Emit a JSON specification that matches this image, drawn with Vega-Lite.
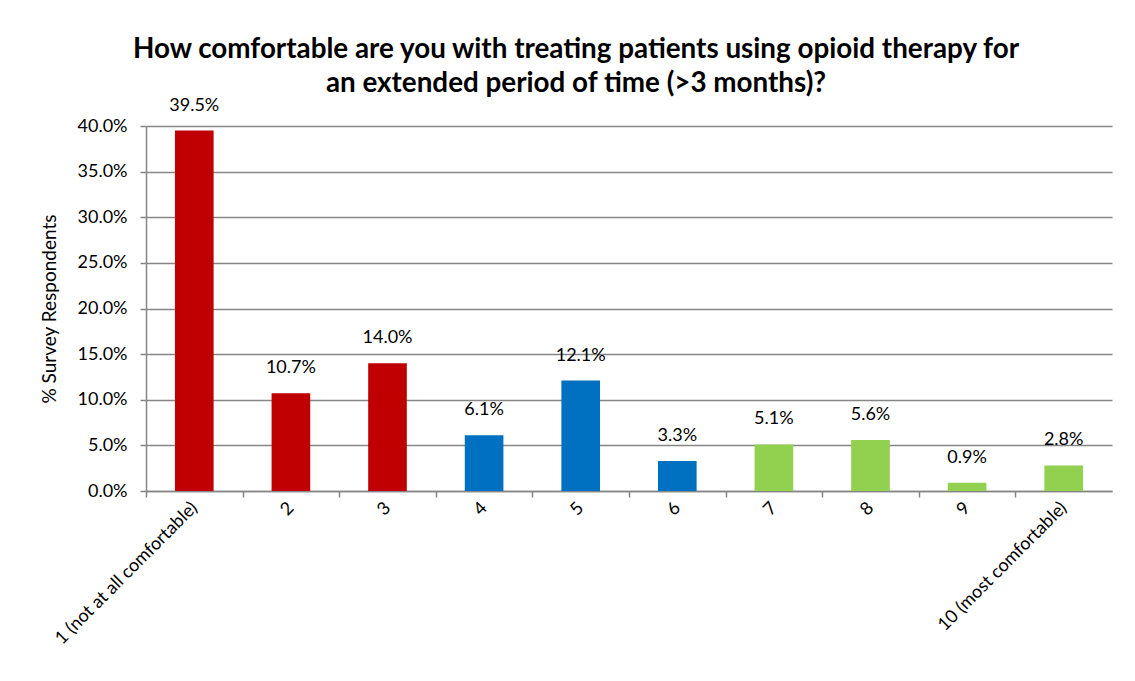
{
  "$schema": "https://vega.github.io/schema/vega-lite/v6.json",
  "autosize": "none",
  "width": 966,
  "height": 365,
  "padding": {"left": 146, "top": 126, "right": 23, "bottom": 190},
  "background": "white",
  "config": {
    "font": "Lato",
    "view": {"stroke": null}
  },
  "title": {
    "text": ["How comfortable are you with treating patients using  opioid therapy for", "an extended period of time (>3 months)?"],
    "font": "Lato",
    "fontSize": 27.8,
    "fontWeight": "bold",
    "color": "black",
    "anchor": "middle",
    "frame": "bounds",
    "offset": -1,
    "lineHeight": 34
  },
  "data": {
    "values": [
      {"category": "1 (not at all comfortable)", "value": 0.395, "group": "low"},
      {"category": "2", "value": 0.107, "group": "low"},
      {"category": "3", "value": 0.140, "group": "low"},
      {"category": "4", "value": 0.061, "group": "mid"},
      {"category": "5", "value": 0.121, "group": "mid"},
      {"category": "6", "value": 0.033, "group": "mid"},
      {"category": "7", "value": 0.051, "group": "high"},
      {"category": "8", "value": 0.056, "group": "high"},
      {"category": "9", "value": 0.009, "group": "high"},
      {"category": "10 (most comfortable)", "value": 0.028, "group": "high"}
    ]
  },
  "encoding": {
    "x": {
      "field": "category",
      "type": "nominal",
      "sort": null,
      "scale": {"paddingInner": 0.6, "paddingOuter": 0.3},
      "axis": {
        "title": null,
        "labelAngle": -45,
        "labelAlign": "right",
        "labelBaseline": "middle",
        "labelFontSize": 18,
        "labelColor": "black",
        "labelPadding": 8,
        "labelLimit": 0,
        "tickOffset": -48.3,
        "labelOffset": 48.3,
        "tickSize": 6,
        "tickColor": "#868686",
        "tickWidth": 1.5,
        "domainColor": "#868686",
        "domainWidth": 1.5,
        "grid": false
      }
    },
    "y": {
      "field": "value",
      "type": "quantitative",
      "scale": {"domain": [0, 0.4], "nice": false},
      "axis": {
        "title": "% Survey Respondents",
        "titleFontSize": 19,
        "titleFontWeight": "normal",
        "titleColor": "black",
        "titlePadding": 18,
        "values": [0, 0.05, 0.1, 0.15, 0.2, 0.25, 0.3, 0.35, 0.4],
        "format": ".1%",
        "labelFontSize": 18,
        "labelColor": "black",
        "labelPadding": 13,
        "tickSize": 6,
        "tickColor": "#868686",
        "tickWidth": 1.5,
        "domainColor": "#868686",
        "domainWidth": 1.5,
        "gridColor": "#868686",
        "gridWidth": 1.3
      }
    }
  },
  "layer": [
    {
      "mark": {"type": "bar"},
      "encoding": {
        "color": {
          "field": "group",
          "type": "nominal",
          "scale": {"domain": ["low", "mid", "high"], "range": ["#C00000", "#0070C0", "#92D050"]},
          "legend": null
        }
      }
    },
    {
      "mark": {"type": "text", "baseline": "alphabetic", "dy": -20, "fontSize": 18, "color": "black"},
      "encoding": {
        "text": {"field": "value", "type": "quantitative", "format": ".1%"}
      }
    }
  ]
}
